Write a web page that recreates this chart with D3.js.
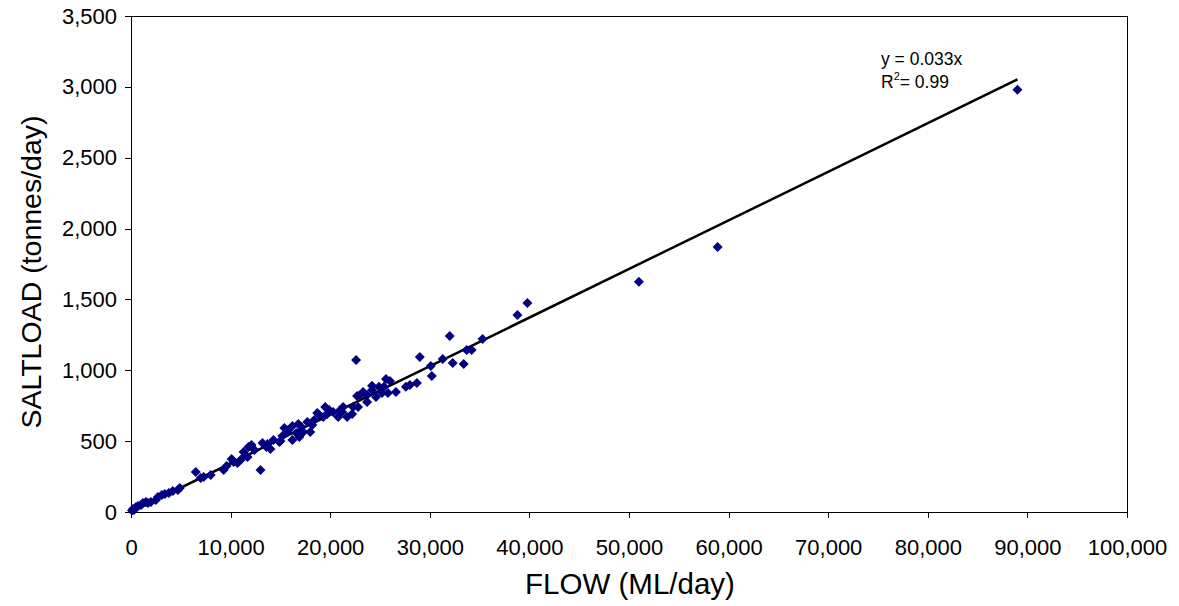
<!DOCTYPE html>
<html><head><meta charset="utf-8">
<script src="https://cdn.jsdelivr.net/npm/d3@7"></script>
<style>
body{margin:0;background:#fff;}
text{font-family:"Liberation Sans",Arial,sans-serif;}
</style></head>
<body><svg id="c" width="1179" height="606"></svg>
<script>
const flow = [89000,58900,51000,39800,38800,35300,32000,33700,34200,31300,29000,22600,30100,30200,32300,33400,28700,27600,25600,24900,24200,23300,23700,22700,25800,25200,23700,22300,22200,21200,22800,21000,20300,19500,18700,18400,17700,16800,17300,15800,16200,14300,18000,19300,21700,20800,15700,14000,13200,13000,11800,11300,11700,10700,10100,9300,8000,7300,6500,7000,4700,3800,3100,2500,1500,1000,500,200,16900,15200,14900,17100,18200,16600,13600,12100,11100,10300,2000,700,100,300,1200,2700,3400,9600,15000,18900,19900,21300,23000,24200,26000,26600,28000,24600,25400,4900,4200,1700,12400,13700,15400,16200,19700];
const saltload = [2980,1870,1624,1475,1391,1221,1242,1144,1144,1080,1094,1073,1031,960,1052,1045,911,883,939,883,890,847,826,819,840,840,777,741,692,706,741,720,706,741,699,650,635,621,565,579,508,508,565,671,671,671,565,445,487,297,459,424,388,346,374,297,261,247,282,240,155,134,120,85,71,49,35,21,530,537,494,600,614,558,459,473,374,353,71,42,10,14,64,106,127,325,501,685,720,741,826,861,925,847,897,812,883,169,148,64,438,480,593,607,692];
const xTicks = [0,10000,20000,30000,40000,50000,60000,70000,80000,90000,100000];
const yTicks = [0,500,1000,1500,2000,2500,3000,3500];
const trendX = [0, 89000];
const trendSlope = 0.0343;
const eqLines = ["y = 0.033x"];

const svg = d3.select("#c");
const L=131, R=1127, T=16, B=512;
const x = d3.scaleLinear().domain([0,100000]).range([L,R]);
const y = d3.scaleLinear().domain([0,3500]).range([B,T]);
const fmt = d3.format(",");

svg.append("rect").attr("x",L).attr("y",T).attr("width",R-L).attr("height",B-T)
  .attr("fill","none").attr("stroke","#000").attr("stroke-width",1).attr("shape-rendering","crispEdges");

const xa = svg.append("g").attr("transform",`translate(0,${B})`)
  .call(d3.axisBottom(x).tickValues(xTicks).tickFormat(fmt).tickSize(6).tickPadding(21));
const ya = svg.append("g").attr("transform",`translate(${L},0)`)
  .call(d3.axisLeft(y).tickValues(yTicks).tickFormat(fmt).tickSize(6).tickPadding(8));
[xa,ya].forEach(a=>{
  a.selectAll("text").attr("font-size",22).attr("fill","#000").attr("font-family","Liberation Sans, Arial, sans-serif");
  a.selectAll("line,path").attr("stroke","#000").attr("shape-rendering","crispEdges");
});

svg.append("line")
  .attr("x1",x(trendX[0])).attr("y1",y(trendX[0]*trendSlope))
  .attr("x2",x(trendX[1])).attr("y2",y(trendX[1]*trendSlope))
  .attr("stroke","#000").attr("stroke-width",2.5);

const d = 5;
svg.append("g").selectAll("path").data(flow.map((f,i)=>[f,saltload[i]])).join("path")
  .attr("d",p=>{const cx=x(p[0]),cy=y(p[1]);return `M${cx},${cy-d}L${cx+d},${cy}L${cx},${cy+d}L${cx-d},${cy}Z`;})
  .attr("fill","#000080");

svg.append("text").attr("x",881).attr("y",65).attr("font-size",17.5).text(eqLines[0]);
const r = svg.append("text").attr("x",881).attr("y",88).attr("font-size",17.5);
r.append("tspan").text("R");
r.append("tspan").attr("dy",-8).attr("font-size",11).text("2");
r.append("tspan").attr("dy",8).text("= 0.99");

svg.append("text").attr("x",630).attr("y",594).attr("text-anchor","middle").attr("font-size",29.5).text("FLOW (ML/day)");
svg.append("text").attr("transform","translate(41,272) rotate(-90)").attr("text-anchor","middle").attr("font-size",28.5).text("SALTLOAD (tonnes/day)");
</script></body></html>
